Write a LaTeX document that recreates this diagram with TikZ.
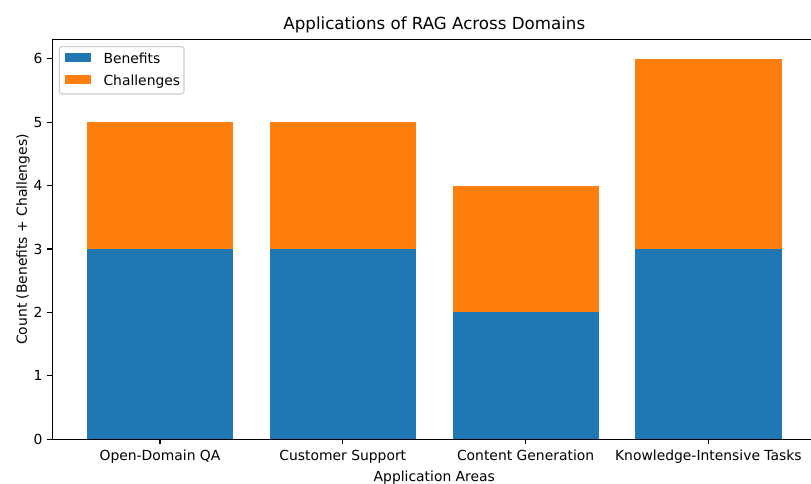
\documentclass[tikz,border=0pt]{standalone}
\usepackage{fontspec}
\setmainfont{DejaVu Sans}
\definecolor{barblue}{HTML}{1F77B4}
\definecolor{barorange}{HTML}{FF7F0E}
\definecolor{legendedge}{HTML}{CCCCCC}
\begin{document}
\begin{tikzpicture}[x=1pt,y=-1pt,
  lbl/.style={font=\fontsize{13.89}{16}\selectfont, inner sep=0pt},
  titlelbl/.style={font=\fontsize{16.67}{19}\selectfont, inner sep=0pt},
  spine/.style={line width=1.1pt, black},
  tickmark/.style={line width=1.1pt, black}]
\useasboundingbox (0,0) rectangle (811,484);
\fill[white] (0,0) rectangle (811,484);

% axis frame: y = 0 at 439.3, 63.43 per unit; x categories every 182.8 from 160
\def\yz{439.3}
\def\yu{63.43}

% stacked bars: benefits (blue) below challenges (orange)
\foreach \i/\b/\c/\lab in {0/3/2/Open-Domain QA, 1/3/2/Customer Support, 2/2/2/Content Generation, 3/3/3/Knowledge-Intensive Tasks}{
  \pgfmathsetmacro\cx{160+182.8*\i}
  \pgfmathsetmacro\xl{\cx-73.1}
  \pgfmathsetmacro\xr{\cx+73.1}
  \pgfmathsetmacro\yb{\yz-\yu*\b}
  \pgfmathsetmacro\yt{\yz-\yu*(\b+\c)}
  \fill[barblue] (\xl,\yz) rectangle (\xr,\yb);
  \fill[barorange] (\xl,\yb) rectangle (\xr,\yt);
  \draw[tickmark] (\cx,\yz) -- (\cx,444.2);
  \node[lbl, anchor=base] (xt\i) at (\cx,460.7) {\lab};
}

% y ticks
\foreach \v in {0,...,6}{
  \pgfmathsetmacro\yy{\yz-\yu*\v}
  \draw[tickmark] (52.3,\yy) -- (47.4,\yy);
  \node[lbl, anchor=east] (yt\v) at (42.6,\yy) {\v};
}

% spines
\draw[spine] (52.3,39.7) -- (52.3,\yz);
\draw[spine] (52.3,\yz) -- (811,\yz);
\draw[spine] (52.3,39.7) -- (811,39.7);

% title and axis labels
\node[titlelbl, anchor=base] (title) at (434.3,29.8) {Applications of RAG Across Domains};
\node[lbl, anchor=base] (xlabel) at (434.3,481.7) {Application Areas};
\node[lbl, anchor=base, rotate=90] (ylabel) at (27,239.5) {Count (Benefits + Challenges)};

% legend
\draw[legendedge, fill=white, fill opacity=0.8, line width=1.1pt, rounded corners=2.8pt] (59.3,46.7) rectangle (184,94);
\fill[barblue] (65,53.3) rectangle (91,62.3);
\fill[barorange] (65,75) rectangle (91,84);
\node[lbl, anchor=base west] (legb) at (103.3,63.6) {Benefits};
\node[lbl, anchor=base west] (legc) at (103.3,85.6) {Challenges};
\end{tikzpicture}
\end{document}
